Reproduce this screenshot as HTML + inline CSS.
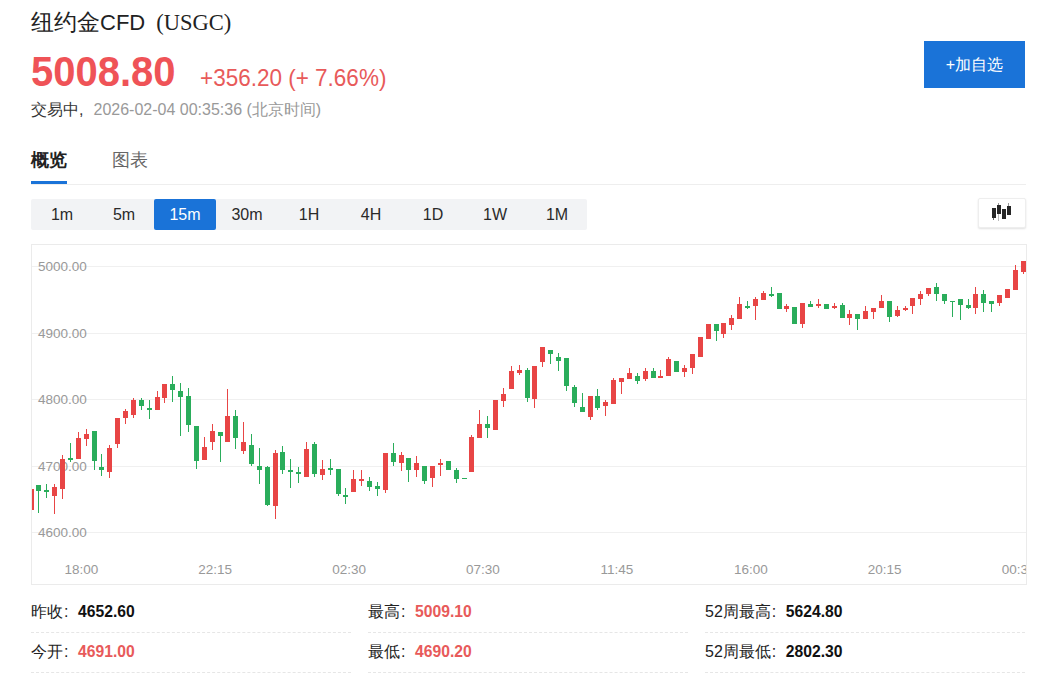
<!DOCTYPE html>
<html><head><meta charset="utf-8">
<style>
*{margin:0;padding:0;box-sizing:border-box}
html,body{width:1042px;height:681px;overflow:hidden;background:#fff;font-family:"Liberation Sans",sans-serif;color:#222}
.abs{position:absolute;white-space:nowrap}
#title{left:31px;top:7px;font-size:23px;line-height:30px;color:#222}
#title .cfd{font-size:22px}
#title .code{font-family:"Liberation Serif",serif;font-size:22.5px;margin-left:11px;color:#222}
#price{left:31px;top:46px;font-size:40px;line-height:48px;font-weight:bold;color:#ef5357;transform:scaleY(1.07);transform-origin:0 10px}
#chg{left:200px;top:65px;font-size:22.5px;line-height:28px;color:#e85a5a;transform:scaleY(1.1);transform-origin:0 22px}
#status{left:31px;top:99px;font-size:16px;line-height:22px;color:#333}
#status .g{color:#999}
#status .cm{display:inline-block;width:14.5px}
#btn{left:924px;top:41px;width:101px;height:47px;background:#1a73d8;color:#fff;font-size:16px;line-height:47px;text-align:center}
#tab1{left:31px;top:147px;font-size:18px;line-height:26px;font-weight:bold;color:#222}
#tab2{left:112px;top:147px;font-size:18px;line-height:26px;color:#666}
#tabline{left:31px;top:184px;width:995px;height:1px;background:#eee}
#tabul{left:31px;top:181px;width:36px;height:3px;background:#1a73d8}
#tf{left:31px;top:199px;width:556px;height:31px;background:#f2f3f5;border-radius:2px}
#tf div{position:absolute;top:0;width:62px;height:31px;line-height:31px;text-align:center;font-size:16px;color:#2a2a2a}
#tf div.on{background:#1a73d8;color:#fff;border-radius:2px}
#kbtn{left:978px;top:198px;width:48px;height:30px;background:#fff;border:1px solid #eee;border-radius:2px;box-shadow:0 1px 2px rgba(0,0,0,.12)}
.stat{font-size:16px;line-height:22px;color:#222}
.stat .c{display:inline-block;width:15px;padding-left:1px;font-size:16px}
.stat b{font-weight:bold;font-size:15.7px;color:#111}
.stat b.red{color:#e85a5a}
.dash{height:1px;border-top:1px dashed #e6e6e6}
</style></head><body>
<div class="abs" id="title">纽约金<span class="cfd">CFD</span><span class="code">(USGC)</span></div>
<div class="abs" id="price">5008.80</div>
<div class="abs" id="chg">+356.20 (+ 7.66%)</div>
<div class="abs" id="status">交易中<span class="cm">,</span><span class="g">2026-02-04 00:35:36 (北京时间)</span></div>
<div class="abs" id="btn">+加自选</div>
<div class="abs" id="tab1">概览</div>
<div class="abs" id="tab2">图表</div>
<div class="abs" id="tabline"></div>
<div class="abs" id="tabul"></div>
<div class="abs" id="tf">
<div style="left:0">1m</div><div style="left:62px">5m</div><div class="on" style="left:123px">15m</div><div style="left:185px">30m</div><div style="left:247px">1H</div><div style="left:309px">4H</div><div style="left:371px">1D</div><div style="left:433px">1W</div><div style="left:495px">1M</div>
</div>
<div class="abs" id="kbtn"></div>
<svg class="abs" style="left:0;top:0" width="1042" height="240" shape-rendering="crispEdges">
<rect x="993" y="217" width="1" height="3" fill="#666"/>
<rect x="992" y="208" width="4" height="10" fill="#262626"/>
<rect x="998" y="203" width="1" height="2" fill="#999"/>
<rect x="998" y="214" width="1" height="7" fill="#bbb"/>
<rect x="997" y="205" width="4" height="9" fill="#262626"/>
<rect x="1002" y="209" width="4" height="10" fill="#262626"/>
<rect x="1008" y="203" width="1" height="3" fill="#999"/>
<rect x="1007" y="206" width="4" height="9" fill="#262626"/>
</svg>
<svg class="abs" style="left:0;top:0" width="1042" height="681" viewBox="0 0 1042 681" shape-rendering="crispEdges">
<defs><clipPath id="cp"><rect x="32" y="245" width="994" height="339"/></clipPath></defs>
<rect x="31.5" y="244.5" width="995" height="340" fill="#fff" stroke="#ebebeb" stroke-width="1"/>
<rect x="32" y="266" width="994" height="1" fill="#f0f0f0"/>
<rect x="32" y="333" width="994" height="1" fill="#f0f0f0"/>
<rect x="32" y="399" width="994" height="1" fill="#f0f0f0"/>
<rect x="32" y="466" width="994" height="1" fill="#f0f0f0"/>
<rect x="32" y="532" width="994" height="1" fill="#f0f0f0"/>
<text x="38" y="271" font-family="Liberation Sans" font-size="13.5" fill="#999" shape-rendering="auto">5000.00</text>
<text x="38" y="338" font-family="Liberation Sans" font-size="13.5" fill="#999" shape-rendering="auto">4900.00</text>
<text x="38" y="404" font-family="Liberation Sans" font-size="13.5" fill="#999" shape-rendering="auto">4800.00</text>
<text x="38" y="471" font-family="Liberation Sans" font-size="13.5" fill="#999" shape-rendering="auto">4700.00</text>
<text x="38" y="537" font-family="Liberation Sans" font-size="13.5" fill="#999" shape-rendering="auto">4600.00</text>
<text x="81.3" y="574" text-anchor="middle" font-family="Liberation Sans" font-size="13.5" fill="#999" clip-path="url(#cp)">18:00</text>
<text x="215.2" y="574" text-anchor="middle" font-family="Liberation Sans" font-size="13.5" fill="#999" clip-path="url(#cp)">22:15</text>
<text x="349.1" y="574" text-anchor="middle" font-family="Liberation Sans" font-size="13.5" fill="#999" clip-path="url(#cp)">02:30</text>
<text x="483.0" y="574" text-anchor="middle" font-family="Liberation Sans" font-size="13.5" fill="#999" clip-path="url(#cp)">07:30</text>
<text x="616.9" y="574" text-anchor="middle" font-family="Liberation Sans" font-size="13.5" fill="#999" clip-path="url(#cp)">11:45</text>
<text x="750.8" y="574" text-anchor="middle" font-family="Liberation Sans" font-size="13.5" fill="#999" clip-path="url(#cp)">16:00</text>
<text x="884.7" y="574" text-anchor="middle" font-family="Liberation Sans" font-size="13.5" fill="#999" clip-path="url(#cp)">20:15</text>
<text x="1018.6" y="574" text-anchor="middle" font-family="Liberation Sans" font-size="13.5" fill="#999" clip-path="url(#cp)">00:30</text>
<g clip-path="url(#cp)">
<rect x="31" y="489" width="1" height="21" fill="#e84545"/>
<rect x="29" y="489" width="5" height="21" fill="#e84545"/>
<rect x="38" y="485" width="1" height="28" fill="#2aad5b"/>
<rect x="36" y="485" width="5" height="6" fill="#2aad5b"/>
<rect x="46" y="484" width="1" height="14" fill="#2aad5b"/>
<rect x="44" y="490" width="5" height="2" fill="#2aad5b"/>
<rect x="54" y="484" width="1" height="30" fill="#e84545"/>
<rect x="52" y="487" width="5" height="9" fill="#e84545"/>
<rect x="62" y="455" width="1" height="44" fill="#e84545"/>
<rect x="60" y="459" width="5" height="30" fill="#e84545"/>
<rect x="70" y="443" width="1" height="19" fill="#2aad5b"/>
<rect x="68" y="458" width="5" height="2" fill="#2aad5b"/>
<rect x="78" y="432" width="1" height="27" fill="#e84545"/>
<rect x="76" y="438" width="5" height="21" fill="#e84545"/>
<rect x="86" y="429" width="1" height="17" fill="#e84545"/>
<rect x="84" y="434" width="5" height="5" fill="#e84545"/>
<rect x="94" y="431" width="1" height="39" fill="#2aad5b"/>
<rect x="92" y="431" width="5" height="30" fill="#2aad5b"/>
<rect x="101" y="454" width="1" height="22" fill="#2aad5b"/>
<rect x="99" y="467" width="5" height="3" fill="#2aad5b"/>
<rect x="109" y="445" width="1" height="33" fill="#e84545"/>
<rect x="107" y="448" width="5" height="24" fill="#e84545"/>
<rect x="117" y="418" width="1" height="30" fill="#e84545"/>
<rect x="115" y="418" width="5" height="26" fill="#e84545"/>
<rect x="125" y="409" width="1" height="15" fill="#e84545"/>
<rect x="123" y="411" width="5" height="7" fill="#e84545"/>
<rect x="133" y="398" width="1" height="20" fill="#e84545"/>
<rect x="131" y="400" width="5" height="15" fill="#e84545"/>
<rect x="141" y="398" width="1" height="12" fill="#2aad5b"/>
<rect x="139" y="400" width="5" height="6" fill="#2aad5b"/>
<rect x="149" y="400" width="1" height="19" fill="#2aad5b"/>
<rect x="147" y="408" width="5" height="2" fill="#2aad5b"/>
<rect x="157" y="391" width="1" height="19" fill="#e84545"/>
<rect x="155" y="397" width="5" height="13" fill="#e84545"/>
<rect x="164" y="384" width="1" height="19" fill="#e84545"/>
<rect x="162" y="384" width="5" height="14" fill="#e84545"/>
<rect x="172" y="376" width="1" height="26" fill="#2aad5b"/>
<rect x="170" y="384" width="5" height="6" fill="#2aad5b"/>
<rect x="180" y="383" width="1" height="53" fill="#2aad5b"/>
<rect x="178" y="391" width="5" height="6" fill="#2aad5b"/>
<rect x="188" y="388" width="1" height="44" fill="#2aad5b"/>
<rect x="186" y="396" width="5" height="29" fill="#2aad5b"/>
<rect x="196" y="426" width="1" height="43" fill="#2aad5b"/>
<rect x="194" y="426" width="5" height="35" fill="#2aad5b"/>
<rect x="204" y="437" width="1" height="23" fill="#e84545"/>
<rect x="202" y="447" width="5" height="13" fill="#e84545"/>
<rect x="212" y="424" width="1" height="26" fill="#e84545"/>
<rect x="210" y="431" width="5" height="11" fill="#e84545"/>
<rect x="220" y="432" width="1" height="30" fill="#2aad5b"/>
<rect x="218" y="432" width="5" height="4" fill="#2aad5b"/>
<rect x="227" y="389" width="1" height="53" fill="#e84545"/>
<rect x="225" y="416" width="5" height="26" fill="#e84545"/>
<rect x="235" y="410" width="1" height="39" fill="#2aad5b"/>
<rect x="233" y="416" width="5" height="22" fill="#2aad5b"/>
<rect x="243" y="422" width="1" height="32" fill="#e84545"/>
<rect x="241" y="442" width="5" height="9" fill="#e84545"/>
<rect x="251" y="434" width="1" height="32" fill="#2aad5b"/>
<rect x="249" y="445" width="5" height="19" fill="#2aad5b"/>
<rect x="259" y="448" width="1" height="36" fill="#2aad5b"/>
<rect x="257" y="466" width="5" height="4" fill="#2aad5b"/>
<rect x="267" y="466" width="1" height="40" fill="#2aad5b"/>
<rect x="265" y="467" width="5" height="38" fill="#2aad5b"/>
<rect x="275" y="450" width="1" height="69" fill="#e84545"/>
<rect x="273" y="453" width="5" height="53" fill="#e84545"/>
<rect x="282" y="446" width="1" height="28" fill="#2aad5b"/>
<rect x="280" y="452" width="5" height="18" fill="#2aad5b"/>
<rect x="290" y="459" width="1" height="29" fill="#2aad5b"/>
<rect x="288" y="470" width="5" height="2" fill="#2aad5b"/>
<rect x="298" y="467" width="1" height="16" fill="#2aad5b"/>
<rect x="296" y="472" width="5" height="2" fill="#2aad5b"/>
<rect x="306" y="442" width="1" height="35" fill="#e84545"/>
<rect x="304" y="449" width="5" height="28" fill="#e84545"/>
<rect x="314" y="442" width="1" height="35" fill="#2aad5b"/>
<rect x="312" y="444" width="5" height="30" fill="#2aad5b"/>
<rect x="322" y="460" width="1" height="20" fill="#e84545"/>
<rect x="320" y="469" width="5" height="6" fill="#e84545"/>
<rect x="330" y="459" width="1" height="16" fill="#2aad5b"/>
<rect x="328" y="468" width="5" height="2" fill="#2aad5b"/>
<rect x="338" y="469" width="1" height="27" fill="#2aad5b"/>
<rect x="336" y="469" width="5" height="25" fill="#2aad5b"/>
<rect x="345" y="488" width="1" height="16" fill="#2aad5b"/>
<rect x="343" y="495" width="5" height="2" fill="#2aad5b"/>
<rect x="353" y="470" width="1" height="22" fill="#e84545"/>
<rect x="351" y="479" width="5" height="13" fill="#e84545"/>
<rect x="361" y="470" width="1" height="16" fill="#e84545"/>
<rect x="359" y="479" width="5" height="2" fill="#e84545"/>
<rect x="369" y="477" width="1" height="14" fill="#2aad5b"/>
<rect x="367" y="481" width="5" height="6" fill="#2aad5b"/>
<rect x="377" y="482" width="1" height="14" fill="#2aad5b"/>
<rect x="375" y="486" width="5" height="3" fill="#2aad5b"/>
<rect x="385" y="453" width="1" height="40" fill="#e84545"/>
<rect x="383" y="453" width="5" height="37" fill="#e84545"/>
<rect x="393" y="443" width="1" height="23" fill="#2aad5b"/>
<rect x="391" y="453" width="5" height="9" fill="#2aad5b"/>
<rect x="401" y="452" width="1" height="19" fill="#e84545"/>
<rect x="399" y="455" width="5" height="8" fill="#e84545"/>
<rect x="408" y="458" width="1" height="24" fill="#2aad5b"/>
<rect x="406" y="458" width="5" height="12" fill="#2aad5b"/>
<rect x="416" y="456" width="1" height="21" fill="#e84545"/>
<rect x="414" y="463" width="5" height="7" fill="#e84545"/>
<rect x="424" y="466" width="1" height="18" fill="#2aad5b"/>
<rect x="422" y="466" width="5" height="15" fill="#2aad5b"/>
<rect x="432" y="466" width="1" height="21" fill="#e84545"/>
<rect x="430" y="466" width="5" height="12" fill="#e84545"/>
<rect x="440" y="459" width="1" height="17" fill="#e84545"/>
<rect x="438" y="463" width="5" height="2" fill="#e84545"/>
<rect x="448" y="461" width="1" height="9" fill="#2aad5b"/>
<rect x="446" y="461" width="5" height="9" fill="#2aad5b"/>
<rect x="456" y="468" width="1" height="15" fill="#2aad5b"/>
<rect x="454" y="470" width="5" height="9" fill="#2aad5b"/>
<rect x="464" y="478" width="1" height="1" fill="#2aad5b"/>
<rect x="462" y="478" width="5" height="1" fill="#2aad5b"/>
<rect x="471" y="435" width="1" height="37" fill="#e84545"/>
<rect x="469" y="437" width="5" height="35" fill="#e84545"/>
<rect x="479" y="410" width="1" height="28" fill="#e84545"/>
<rect x="477" y="424" width="5" height="14" fill="#e84545"/>
<rect x="487" y="416" width="1" height="22" fill="#2aad5b"/>
<rect x="485" y="424" width="5" height="4" fill="#2aad5b"/>
<rect x="495" y="400" width="1" height="30" fill="#e84545"/>
<rect x="493" y="400" width="5" height="30" fill="#e84545"/>
<rect x="503" y="388" width="1" height="19" fill="#e84545"/>
<rect x="501" y="394" width="5" height="7" fill="#e84545"/>
<rect x="511" y="366" width="1" height="23" fill="#e84545"/>
<rect x="509" y="371" width="5" height="18" fill="#e84545"/>
<rect x="519" y="365" width="1" height="10" fill="#e84545"/>
<rect x="517" y="370" width="5" height="3" fill="#e84545"/>
<rect x="527" y="368" width="1" height="34" fill="#2aad5b"/>
<rect x="525" y="370" width="5" height="28" fill="#2aad5b"/>
<rect x="534" y="366" width="1" height="42" fill="#e84545"/>
<rect x="532" y="366" width="5" height="33" fill="#e84545"/>
<rect x="542" y="347" width="1" height="20" fill="#e84545"/>
<rect x="540" y="347" width="5" height="15" fill="#e84545"/>
<rect x="550" y="350" width="1" height="14" fill="#2aad5b"/>
<rect x="548" y="350" width="5" height="4" fill="#2aad5b"/>
<rect x="558" y="353" width="1" height="18" fill="#2aad5b"/>
<rect x="556" y="357" width="5" height="4" fill="#2aad5b"/>
<rect x="566" y="358" width="1" height="33" fill="#2aad5b"/>
<rect x="564" y="358" width="5" height="28" fill="#2aad5b"/>
<rect x="574" y="385" width="1" height="22" fill="#2aad5b"/>
<rect x="572" y="387" width="5" height="16" fill="#2aad5b"/>
<rect x="582" y="393" width="1" height="19" fill="#2aad5b"/>
<rect x="580" y="407" width="5" height="5" fill="#2aad5b"/>
<rect x="590" y="396" width="1" height="24" fill="#e84545"/>
<rect x="588" y="396" width="5" height="21" fill="#e84545"/>
<rect x="597" y="389" width="1" height="21" fill="#2aad5b"/>
<rect x="595" y="396" width="5" height="12" fill="#2aad5b"/>
<rect x="605" y="400" width="1" height="16" fill="#e84545"/>
<rect x="603" y="402" width="5" height="4" fill="#e84545"/>
<rect x="613" y="378" width="1" height="26" fill="#e84545"/>
<rect x="611" y="380" width="5" height="24" fill="#e84545"/>
<rect x="621" y="378" width="1" height="16" fill="#e84545"/>
<rect x="619" y="378" width="5" height="4" fill="#e84545"/>
<rect x="629" y="368" width="1" height="11" fill="#e84545"/>
<rect x="627" y="373" width="5" height="6" fill="#e84545"/>
<rect x="637" y="373" width="1" height="11" fill="#2aad5b"/>
<rect x="635" y="376" width="5" height="5" fill="#2aad5b"/>
<rect x="645" y="368" width="1" height="13" fill="#e84545"/>
<rect x="643" y="371" width="5" height="8" fill="#e84545"/>
<rect x="653" y="368" width="1" height="10" fill="#2aad5b"/>
<rect x="651" y="371" width="5" height="7" fill="#2aad5b"/>
<rect x="660" y="370" width="1" height="8" fill="#e84545"/>
<rect x="658" y="376" width="5" height="2" fill="#e84545"/>
<rect x="668" y="357" width="1" height="19" fill="#e84545"/>
<rect x="666" y="359" width="5" height="17" fill="#e84545"/>
<rect x="676" y="361" width="1" height="11" fill="#2aad5b"/>
<rect x="674" y="361" width="5" height="11" fill="#2aad5b"/>
<rect x="684" y="365" width="1" height="12" fill="#e84545"/>
<rect x="682" y="368" width="5" height="4" fill="#e84545"/>
<rect x="692" y="354" width="1" height="20" fill="#e84545"/>
<rect x="690" y="354" width="5" height="14" fill="#e84545"/>
<rect x="700" y="337" width="1" height="20" fill="#e84545"/>
<rect x="698" y="337" width="5" height="20" fill="#e84545"/>
<rect x="708" y="324" width="1" height="15" fill="#e84545"/>
<rect x="706" y="324" width="5" height="15" fill="#e84545"/>
<rect x="716" y="324" width="1" height="17" fill="#2aad5b"/>
<rect x="714" y="324" width="5" height="7" fill="#2aad5b"/>
<rect x="723" y="323" width="1" height="15" fill="#e84545"/>
<rect x="721" y="323" width="5" height="11" fill="#e84545"/>
<rect x="731" y="315" width="1" height="15" fill="#e84545"/>
<rect x="729" y="318" width="5" height="7" fill="#e84545"/>
<rect x="739" y="297" width="1" height="22" fill="#e84545"/>
<rect x="737" y="304" width="5" height="15" fill="#e84545"/>
<rect x="747" y="301" width="1" height="8" fill="#2aad5b"/>
<rect x="745" y="306" width="5" height="2" fill="#2aad5b"/>
<rect x="755" y="297" width="1" height="23" fill="#e84545"/>
<rect x="753" y="299" width="5" height="7" fill="#e84545"/>
<rect x="763" y="291" width="1" height="9" fill="#e84545"/>
<rect x="761" y="293" width="5" height="7" fill="#e84545"/>
<rect x="771" y="287" width="1" height="10" fill="#2aad5b"/>
<rect x="769" y="294" width="5" height="2" fill="#2aad5b"/>
<rect x="779" y="293" width="1" height="16" fill="#2aad5b"/>
<rect x="777" y="293" width="5" height="16" fill="#2aad5b"/>
<rect x="786" y="304" width="1" height="8" fill="#e84545"/>
<rect x="784" y="306" width="5" height="3" fill="#e84545"/>
<rect x="794" y="307" width="1" height="17" fill="#2aad5b"/>
<rect x="792" y="307" width="5" height="17" fill="#2aad5b"/>
<rect x="802" y="303" width="1" height="25" fill="#e84545"/>
<rect x="800" y="303" width="5" height="21" fill="#e84545"/>
<rect x="810" y="301" width="1" height="6" fill="#2aad5b"/>
<rect x="808" y="304" width="5" height="3" fill="#2aad5b"/>
<rect x="818" y="299" width="1" height="9" fill="#e84545"/>
<rect x="816" y="304" width="5" height="2" fill="#e84545"/>
<rect x="826" y="304" width="1" height="5" fill="#2aad5b"/>
<rect x="824" y="304" width="5" height="5" fill="#2aad5b"/>
<rect x="834" y="303" width="1" height="6" fill="#e84545"/>
<rect x="832" y="306" width="5" height="2" fill="#e84545"/>
<rect x="842" y="303" width="1" height="15" fill="#2aad5b"/>
<rect x="840" y="305" width="5" height="13" fill="#2aad5b"/>
<rect x="849" y="310" width="1" height="15" fill="#e84545"/>
<rect x="847" y="314" width="5" height="4" fill="#e84545"/>
<rect x="857" y="314" width="1" height="16" fill="#2aad5b"/>
<rect x="855" y="314" width="5" height="5" fill="#2aad5b"/>
<rect x="865" y="306" width="1" height="13" fill="#e84545"/>
<rect x="863" y="311" width="5" height="8" fill="#e84545"/>
<rect x="873" y="308" width="1" height="11" fill="#e84545"/>
<rect x="871" y="308" width="5" height="4" fill="#e84545"/>
<rect x="881" y="295" width="1" height="13" fill="#e84545"/>
<rect x="879" y="301" width="5" height="7" fill="#e84545"/>
<rect x="889" y="301" width="1" height="21" fill="#2aad5b"/>
<rect x="887" y="301" width="5" height="16" fill="#2aad5b"/>
<rect x="897" y="306" width="1" height="11" fill="#e84545"/>
<rect x="895" y="310" width="5" height="6" fill="#e84545"/>
<rect x="905" y="306" width="1" height="5" fill="#e84545"/>
<rect x="903" y="308" width="5" height="2" fill="#e84545"/>
<rect x="912" y="298" width="1" height="16" fill="#e84545"/>
<rect x="910" y="298" width="5" height="8" fill="#e84545"/>
<rect x="920" y="291" width="1" height="14" fill="#e84545"/>
<rect x="918" y="294" width="5" height="5" fill="#e84545"/>
<rect x="928" y="288" width="1" height="8" fill="#e84545"/>
<rect x="926" y="288" width="5" height="6" fill="#e84545"/>
<rect x="936" y="283" width="1" height="18" fill="#2aad5b"/>
<rect x="934" y="287" width="5" height="7" fill="#2aad5b"/>
<rect x="944" y="294" width="1" height="10" fill="#2aad5b"/>
<rect x="942" y="294" width="5" height="7" fill="#2aad5b"/>
<rect x="952" y="301" width="1" height="16" fill="#2aad5b"/>
<rect x="950" y="301" width="5" height="1" fill="#2aad5b"/>
<rect x="960" y="299" width="1" height="21" fill="#2aad5b"/>
<rect x="958" y="299" width="5" height="6" fill="#2aad5b"/>
<rect x="968" y="299" width="1" height="10" fill="#2aad5b"/>
<rect x="966" y="305" width="5" height="3" fill="#2aad5b"/>
<rect x="975" y="287" width="1" height="27" fill="#e84545"/>
<rect x="973" y="294" width="5" height="14" fill="#e84545"/>
<rect x="983" y="290" width="1" height="22" fill="#2aad5b"/>
<rect x="981" y="294" width="5" height="9" fill="#2aad5b"/>
<rect x="991" y="301" width="1" height="11" fill="#2aad5b"/>
<rect x="989" y="301" width="5" height="3" fill="#2aad5b"/>
<rect x="999" y="295" width="1" height="11" fill="#e84545"/>
<rect x="997" y="295" width="5" height="8" fill="#e84545"/>
<rect x="1007" y="289" width="1" height="9" fill="#e84545"/>
<rect x="1005" y="289" width="5" height="9" fill="#e84545"/>
<rect x="1015" y="265" width="1" height="25" fill="#e84545"/>
<rect x="1013" y="270" width="5" height="20" fill="#e84545"/>
<rect x="1023" y="261" width="1" height="13" fill="#e84545"/>
<rect x="1021" y="261" width="5" height="11" fill="#e84545"/>
</g>
</svg>
<div class="abs stat" style="left:31px;top:601px">昨收<span class="c">:</span><b>4652.60</b></div>
<div class="abs stat" style="left:31px;top:641px">今开<span class="c">:</span><b class="red">4691.00</b></div>
<div class="abs stat" style="left:368px;top:601px">最高<span class="c">:</span><b class="red">5009.10</b></div>
<div class="abs stat" style="left:368px;top:641px">最低<span class="c">:</span><b class="red">4690.20</b></div>
<div class="abs stat" style="left:705px;top:601px">52周最高<span class="c">:</span><b>5624.80</b></div>
<div class="abs stat" style="left:705px;top:641px">52周最低<span class="c">:</span><b>2802.30</b></div>
<div class="abs dash" style="left:31px;top:632px;width:320px"></div>
<div class="abs dash" style="left:368px;top:632px;width:320px"></div>
<div class="abs dash" style="left:705px;top:632px;width:320px"></div>
<div class="abs dash" style="left:31px;top:672px;width:320px"></div>
<div class="abs dash" style="left:368px;top:672px;width:320px"></div>
<div class="abs dash" style="left:705px;top:672px;width:320px"></div>
</body></html>
